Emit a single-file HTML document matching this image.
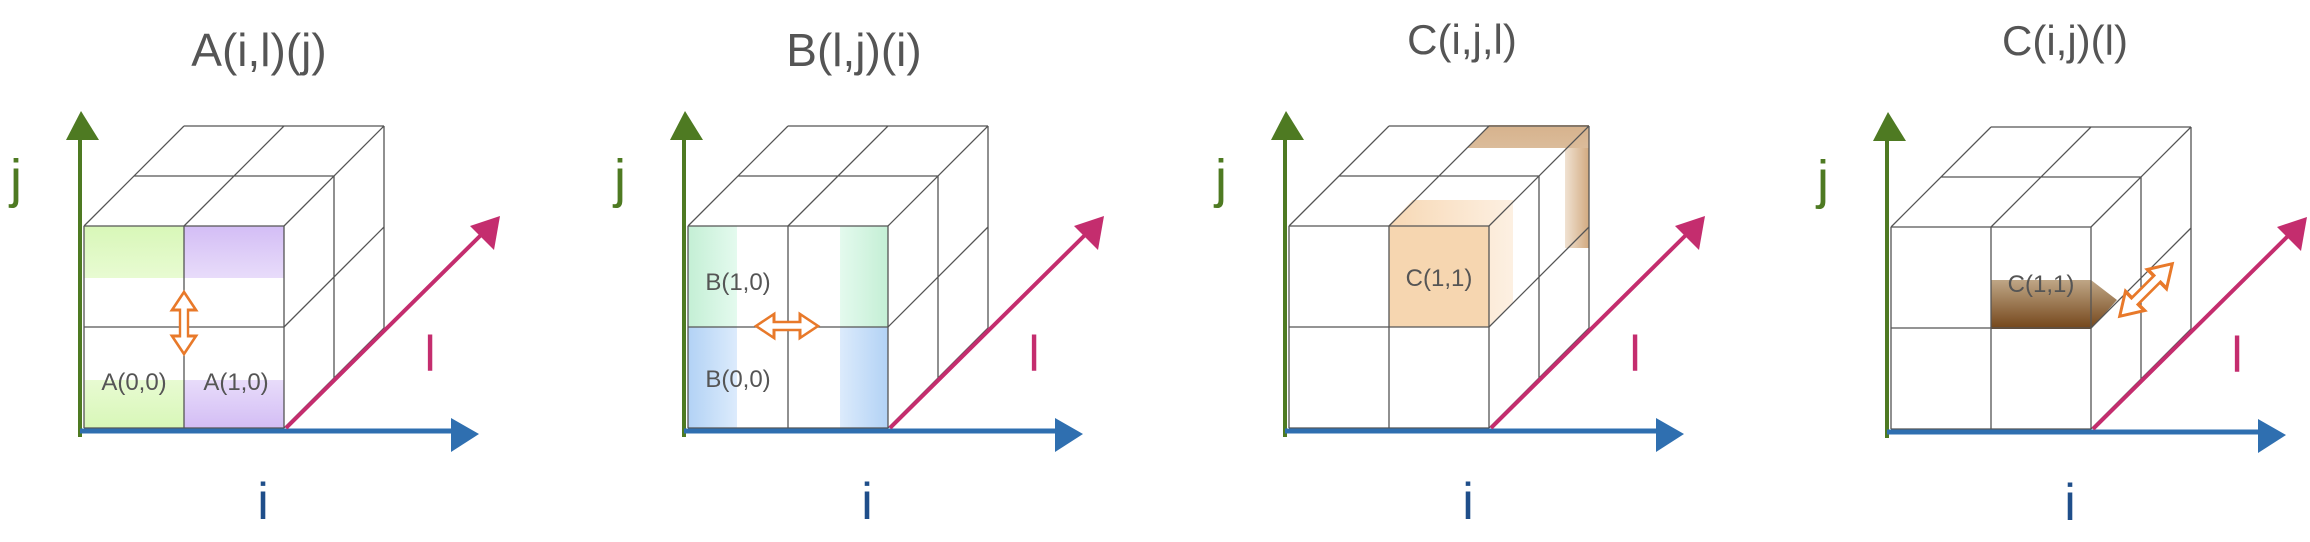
<!DOCTYPE html>
<html><head><meta charset="utf-8"><style>
html,body{margin:0;padding:0;background:#fff;}
svg{display:block;}
text{font-family:"Liberation Sans",sans-serif;}
</style></head><body>
<svg width="2310" height="542" viewBox="0 0 2310 542" xmlns="http://www.w3.org/2000/svg">
<defs>
 <linearGradient id="gL" x1="0" x2="1" y1="0" y2="0"><stop offset="0" stop-color="#c4efd5"/><stop offset="1" stop-color="#e4faee"/></linearGradient>
 <linearGradient id="gR" x1="0" x2="1" y1="0" y2="0"><stop offset="0" stop-color="#e4faee"/><stop offset="1" stop-color="#c4efd5"/></linearGradient>
 <linearGradient id="bL" x1="0" x2="1" y1="0" y2="0"><stop offset="0" stop-color="#b2d2f5"/><stop offset="1" stop-color="#dcebfc"/></linearGradient>
 <linearGradient id="bR" x1="0" x2="1" y1="0" y2="0"><stop offset="0" stop-color="#dcebfc"/><stop offset="1" stop-color="#b2d2f5"/></linearGradient>
 <linearGradient id="grT" x1="0" x2="0" y1="0" y2="1"><stop offset="0" stop-color="#d8f7b8"/><stop offset="1" stop-color="#e8fbd2"/></linearGradient>
 <linearGradient id="grB" x1="0" x2="0" y1="0" y2="1"><stop offset="0" stop-color="#e8fbd2"/><stop offset="1" stop-color="#d8f7b8"/></linearGradient>
 <linearGradient id="puT" x1="0" x2="0" y1="0" y2="1"><stop offset="0" stop-color="#d3bdf5"/><stop offset="1" stop-color="#e8dcfa"/></linearGradient>
 <linearGradient id="puB" x1="0" x2="0" y1="0" y2="1"><stop offset="0" stop-color="#e8dcfa"/><stop offset="1" stop-color="#d3bdf5"/></linearGradient>
 <linearGradient id="orL" x1="0" x2="1" y1="0" y2="0"><stop offset="0" stop-color="#f7d8b4"/><stop offset="1" stop-color="#fdf0e2"/></linearGradient>
 <linearGradient id="brG" x1="0" x2="1" y1="0" y2="0"><stop offset="0" stop-color="#f0e2d2"/><stop offset="1" stop-color="#d2aa80"/></linearGradient>
 <linearGradient id="brT" x1="0" x2="0" y1="0" y2="1"><stop offset="0" stop-color="#d6b28c"/><stop offset="1" stop-color="#f2e6d8"/></linearGradient>
 <linearGradient id="dk" x1="0" x2="0" y1="0" y2="1"><stop offset="0" stop-color="#bfa686"/><stop offset="1" stop-color="#74461a"/></linearGradient>
 <g id="axes">
  <line x1="80" y1="437" x2="80" y2="138" stroke="#4e7a22" stroke-width="4"/>
  <polygon points="66,140 99,140 81,111" fill="#4e7a22"/>
  <line x1="80" y1="431" x2="452" y2="431" stroke="#2f6fb0" stroke-width="5"/>
  <polygon points="451,418 451,452 479,434" fill="#2f6fb0"/>
  <line x1="286" y1="428" x2="482" y2="234" stroke="#c42d6e" stroke-width="4"/>
  <polygon points="470,226 500,216 494,250" fill="#c42d6e"/>
  <text x="16" y="197" font-size="54" fill="#4e7a22" text-anchor="middle">j</text>
  <text x="430" y="371" font-size="50" fill="#c42d6e" text-anchor="middle">l</text>
  <text x="263" y="519" font-size="52" fill="#1f4e8a" text-anchor="middle">i</text>
 </g>
 <g id="cube" fill="none" stroke="#555" stroke-width="1.3">
  <path d="M84,226V428M184,226V428M284,226V428M84,226H284M84,327H284M84,428H284"/>
  <path d="M84,226L184,126M184,226L284,126M284,226L384,126M134,176H334M184,126H384"/>
  <path d="M284,327L384,227M284,428L384,328M334,176V378M384,126V328"/>
 </g>
 <path id="dbl" d="M-31,0L-13,-15L-13,-5L13,-5L13,-15L31,0L13,15L13,5L-13,5L-13,15Z" fill="#fff" stroke="#e8792a" stroke-width="3" stroke-linejoin="miter"/>
</defs>

<!-- Panel 1 -->
<g>
 <rect x="84" y="226" width="100" height="52" fill="url(#grT)"/>
 <rect x="84" y="380" width="100" height="48" fill="url(#grB)"/>
 <rect x="184" y="226" width="100" height="52" fill="url(#puT)"/>
 <rect x="184" y="380" width="100" height="48" fill="url(#puB)"/>
 <use href="#cube"/>
 <use href="#axes"/>
 <use href="#dbl" transform="translate(184,323) rotate(90) scale(1,0.8)"/>
 <text x="134" y="390" font-size="24" fill="#555" text-anchor="middle">A(0,0)</text>
 <text x="236" y="390" font-size="24" fill="#555" text-anchor="middle">A(1,0)</text>
 <text x="259" y="66" font-size="46" fill="#555" text-anchor="middle">A(i,l)(j)</text>
</g>

<!-- Panel 2 -->
<g transform="translate(604,0)">
 <rect x="84" y="226" width="49" height="101" fill="url(#gL)"/>
 <rect x="236" y="226" width="48" height="101" fill="url(#gR)"/>
 <rect x="84" y="327" width="49" height="101" fill="url(#bL)"/>
 <rect x="236" y="327" width="48" height="101" fill="url(#bR)"/>
 <use href="#cube"/>
 <use href="#axes"/>
 <use href="#dbl" transform="translate(183,326) scale(1,0.8)"/>
 <text x="134" y="290" font-size="24" fill="#555" text-anchor="middle">B(1,0)</text>
 <text x="134" y="387" font-size="24" fill="#555" text-anchor="middle">B(0,0)</text>
 <text x="250" y="66" font-size="46" fill="#555" text-anchor="middle">B(l,j)(i)</text>
</g>

<!-- Panel 3 -->
<g transform="translate(1205,0)">
 <polygon points="284,125 384,125 384,225 360,248 360,148 262,148" fill="url(#brT)"/>
 <rect x="360" y="148" width="24" height="100" fill="url(#brG)"/>
 <polygon points="183,226 208,200 308,200 308,302 284,326" fill="url(#orL)"/>
 <rect x="184" y="226" width="100" height="101" fill="#f6d6b0"/>
 <use href="#cube"/>
 <use href="#axes"/>
 <text x="234" y="286" font-size="24" fill="#555" text-anchor="middle">C(1,1)</text>
 <text x="257" y="54" font-size="42" fill="#555" text-anchor="middle">C(i,j,l)</text>
</g>

<!-- Panel 4 -->
<g transform="translate(1807,1)">
 <polygon points="184,279 284,279 310,299 284,328 184,328" fill="url(#dk)"/>
 <use href="#cube"/>
 <use href="#axes"/>
 <use href="#dbl" transform="translate(339,289) rotate(-45) scale(1.2,0.9)"/>
 <text x="234" y="291" font-size="24" fill="#555" text-anchor="middle">C(1,1)</text>
 <text x="258" y="54" font-size="42" fill="#555" text-anchor="middle">C(i,j)(l)</text>
</g>
</svg>
</body></html>
